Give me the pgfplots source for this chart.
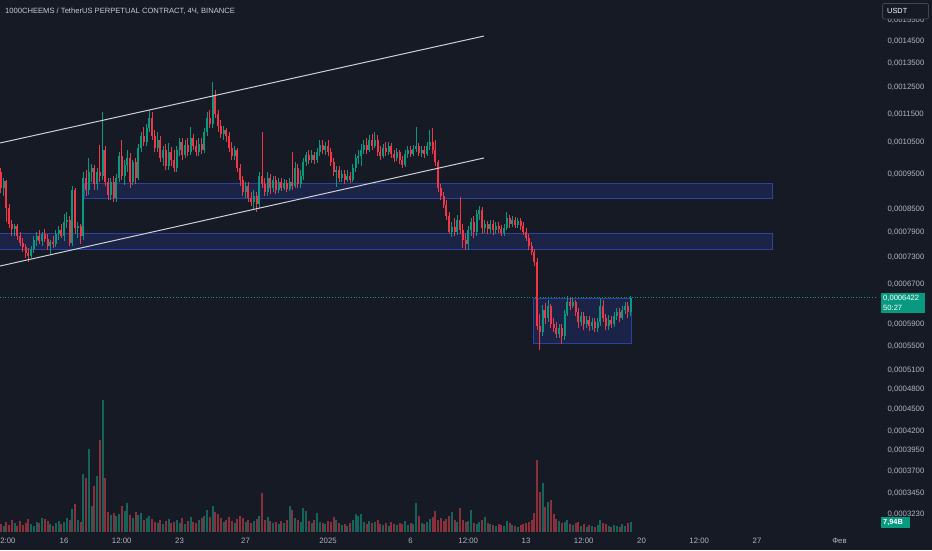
\documentclass[border=0pt]{standalone}
\usepackage{fontspec}
\setmainfont{Liberation Sans}
\usepackage{pgfplots}
\usepackage{pgfplotstable}
\pgfplotsset{compat=1.18}
\definecolor{bg}{RGB}{22,26,37}
\definecolor{upc}{RGB}{8,153,129}
\definecolor{dnc}{RGB}{242,54,69}
\definecolor{volup}{RGB}{20,100,92}
\definecolor{voldn}{RGB}{138,48,58}
\definecolor{lbl}{RGB}{178,181,190}
\definecolor{titlec}{RGB}{200,203,210}
\definecolor{zonef}{RGB}{27,36,70}
\definecolor{zoneb}{RGB}{44,66,160}
\definecolor{chan}{RGB}{205,208,214}
\definecolor{boxc}{RGB}{67,70,81}
% prices in units of 1e-7 USDT (6422 = 0,0006422); volume in billions
\pgfplotstableread{
i o h l c v
1 9566 9688 8948 9092 6.4
2 9092 9385 8864 9296 4.8
3 9296 9326 8161 8532 7.9
4 8532 8641 8007 8110 5.6
5 8110 8213 7806 7982 9.5
6 7982 8110 7806 8058 7.1
7 8058 8110 7708 7806 4.8
8 7806 7906 7563 7635 8.7
9 7635 7757 7420 7539 5.6
10 7539 7611 7280 7396 7.1
11 7396 7515 7188 7327 10.3
12 7327 7563 7280 7491 6.4
13 7491 7806 7396 7708 4.8
14 7708 7906 7563 7806 7.9
15 7806 7957 7611 7684 7.1
16 7684 7906 7563 7856 11.1
17 7856 7982 7659 7732 10.3
18 7732 7856 7467 7563 8.7
19 7563 7708 7373 7659 6.4
20 7659 7806 7515 7611 4.8
21 7611 7957 7539 7856 7.1
22 7856 8058 7708 7957 8.7
23 7957 8110 7757 7806 6.4
24 7806 8371 7684 8161 7.9
25 8161 8425 8007 8213 11.1
26 8213 8319 7563 7635 9.5
27 7635 9150 7563 9034 18.3
28 9034 9092 7856 8007 22.2
29 8007 8161 7757 8058 9.5
30 8058 8110 7611 7806 7.9
31 7806 9566 7708 9385 46.1
32 9385 9627 8864 9034 42.9
33 9034 10000 8892 9566 65.9
34 9566 9811 9267 9688 20.6
35 9688 9781 9034 9208 36.5
36 9208 9688 9034 9566 44.5
37 9566 10422 9267 9445 73.0
38 9445 11573 9326 10258 104.8
39 10258 10389 9150 9267 42.9
40 9267 9385 8752 8892 15.9
41 8892 9385 8752 9267 13.5
42 9267 9445 8696 8808 15.1
43 8808 9505 8696 9385 12.7
44 9385 10193 9267 10064 14.3
45 10064 10589 9326 9445 20.6
46 9445 9937 9179 9781 16.7
47 9781 10258 9566 10000 23.0
48 10000 10161 9092 9267 13.5
49 9267 9937 9179 9874 11.1
50 9874 10000 9208 9385 15.9
51 9385 10455 9326 10323 13.5
52 10323 10861 10193 10724 15.1
53 10724 11035 10389 10522 9.5
54 10522 11140 10389 11000 11.1
55 11000 11647 10861 11355 12.7
56 11355 11573 10589 10724 10.3
57 10724 10930 10193 10323 7.9
58 10323 10861 10193 10589 7.1
59 10589 10724 9874 10000 9.5
60 10000 10389 9750 10258 6.4
61 10258 10455 9627 9750 8.7
62 9750 10488 9627 10193 10.3
63 10193 10356 9750 9937 7.1
64 9937 10258 9566 9688 7.9
65 9688 10389 9566 10258 9.5
66 10258 10656 10064 10522 7.1
67 10522 10656 9937 10096 11.1
68 10096 10589 10000 10422 6.4
69 10422 10656 10064 10193 8.7
70 10193 11035 10096 10656 11.9
71 10656 10792 10258 10389 7.9
72 10389 10589 10064 10193 7.1
73 10193 10656 10064 10455 9.5
74 10455 10656 10128 10258 11.1
75 10258 11000 10161 10861 12.7
76 10861 11573 10724 11355 17.5
77 11355 11647 11000 11140 11.9
78 11140 12730 11000 12215 20.6
79 12215 12410 11355 11500 15.9
80 11500 11647 10861 11070 14.3
81 11070 11283 10656 10792 11.1
82 10792 11070 10589 10930 7.9
83 10930 11000 10522 10724 9.5
84 10724 10861 10193 10323 11.9
85 10323 10522 9937 10064 8.7
86 10064 10389 9937 10258 7.1
87 10258 10323 9566 9688 10.3
88 9688 9811 9150 9326 12.7
89 9326 9445 8864 8977 11.1
90 8977 9267 8808 9150 7.9
91 9150 9267 8696 8808 9.5
92 8808 8977 8587 8696 7.1
93 8696 9034 8478 8864 8.7
94 8864 8977 8425 8641 10.3
95 8641 9566 8532 9445 12.7
96 9445 10861 9092 9208 31.0
97 9208 9385 8864 8977 9.5
98 8977 9566 8864 9385 11.9
99 9385 9505 8920 9092 8.7
100 9092 9445 8977 9326 7.1
101 9326 9445 8920 9034 7.9
102 9034 9385 8948 9267 6.4
103 9267 9385 9005 9092 8.7
104 9092 9355 9034 9237 7.1
105 9237 9326 8977 9063 9.5
106 9063 9385 9005 9267 20.6
107 9267 10193 9034 9150 17.5
108 9150 9874 9092 9688 11.1
109 9688 9811 9092 9208 9.5
110 9208 9627 9092 9445 7.9
111 9445 10000 9326 9874 19.1
112 9874 10193 9750 10096 16.7
113 10096 10258 9811 9937 8.7
114 9937 10258 9843 10096 7.1
115 10096 10193 9811 9937 9.5
116 9937 10323 9843 10193 15.1
117 10193 10589 10064 10422 7.9
118 10422 10589 10128 10258 7.1
119 10258 10522 10096 10389 6.4
120 10389 10589 10064 10193 8.7
121 10193 10323 9750 9874 7.9
122 9874 10000 9445 9566 11.9
123 9566 9750 9121 9627 9.5
124 9627 9750 9267 9385 7.1
125 9385 9627 9267 9505 5.6
126 9505 9627 9208 9326 6.4
127 9326 9627 9267 9445 4.8
128 9445 9566 9237 9326 7.1
129 9326 9811 9267 9688 9.5
130 9688 10128 9566 10000 14.3
131 10000 10258 9811 10064 12.7
132 10064 10455 9750 10258 14.3
133 10258 10589 10128 10422 7.9
134 10422 10656 10128 10258 6.4
135 10258 10758 10193 10589 8.7
136 10589 10792 10258 10389 7.1
137 10389 10861 10323 10589 7.9
138 10589 10758 10064 10193 9.5
139 10193 10389 9937 10064 6.4
140 10064 10455 10000 10323 5.6
141 10323 10522 10064 10193 7.1
142 10193 10522 10096 10389 4.8
143 10389 10488 10000 10128 7.9
144 10128 10258 9874 10000 6.4
145 10000 10323 9905 10193 5.6
146 10193 10258 9811 9937 7.1
147 9937 10064 9688 9781 6.4
148 9781 10258 9719 10128 8.7
149 10128 10389 10000 10258 5.6
150 10258 10389 10032 10128 7.1
151 10128 10422 10064 10290 6.4
152 10290 11035 10193 10389 23.0
153 10389 10488 10064 10161 12.7
154 10161 10389 10032 10258 7.1
155 10258 10389 10000 10128 6.4
156 10128 10522 10064 10389 7.9
157 10389 10930 10258 10522 10.3
158 10522 11000 10128 10258 11.9
159 10258 10589 9750 9874 16.7
160 9874 9937 8977 9092 9.5
161 9092 9208 8752 8864 11.1
162 8864 8977 8532 8614 8.7
163 8614 8752 8213 8319 10.3
164 8319 8425 7856 7906 12.7
165 7906 8161 7781 8033 15.9
166 8033 8266 7806 7906 9.5
167 7906 8345 7831 8213 7.9
168 8213 8836 7856 7957 19.1
169 7957 8110 7515 7708 9.5
170 7708 7856 7467 7611 7.9
171 7611 8058 7467 7957 8.7
172 7957 8266 7806 8161 17.5
173 8161 8319 7757 7906 7.1
174 7906 8478 7806 8371 6.4
175 8371 8587 8213 8478 7.9
176 8478 8559 7856 8007 9.5
177 8007 8213 7881 8110 11.9
178 8110 8187 7856 7982 7.1
179 7982 8213 7881 8110 6.4
180 8110 8213 7831 7957 5.6
181 7957 8161 7856 8058 4.8
182 8058 8161 7881 7982 6.4
183 7982 8084 7806 7881 5.6
184 7881 8110 7806 8007 4.8
185 8007 8425 7957 8266 8.7
186 8266 8345 8007 8110 7.1
187 8110 8319 8033 8213 5.6
188 8213 8292 8007 8084 4.8
189 8084 8266 8007 8187 4.0
190 8187 8266 7957 8058 5.6
191 8058 8161 7831 7906 6.4
192 7906 8007 7684 7757 7.1
193 7757 7856 7467 7563 7.9
194 7563 7659 7350 7420 9.5
195 7420 7491 7097 7188 15.1
196 7188 7280 5793 5866 57.2
197 5866 6094 5436 5756 31.8
198 5756 6271 5683 6172 38.9
199 6172 6311 5904 6017 19.9
200 6017 6371 5941 6251 23.8
201 6251 6291 5829 5904 25.4
202 5904 6017 5756 5829 14.3
203 5829 5941 5647 5720 10.3
204 5720 5904 5647 5829 8.7
205 5829 5904 5541 5683 7.1
206 5683 6172 5612 6094 7.9
207 6094 6452 6056 6331 9.5
208 6331 6411 6172 6251 6.4
209 6251 6432 6212 6331 5.6
210 6331 6371 6056 6133 7.1
211 6133 6212 5829 5941 7.9
212 5941 6133 5866 6056 4.8
213 6056 6133 5793 5904 6.4
214 5904 6056 5829 5979 4.0
215 5979 6056 5775 5866 5.6
216 5866 6017 5793 5941 4.8
217 5941 6017 5756 5829 4.0
218 5829 6017 5756 5941 5.6
219 5941 6411 5866 6251 9.5
220 6251 6371 5941 6017 7.1
221 6017 6094 5793 5866 6.4
222 5866 6075 5793 5979 4.8
223 5979 6056 5829 5904 4.0
224 5904 6133 5848 6056 5.6
225 6056 6212 5979 6133 4.8
226 6133 6212 5941 6017 4.0
227 6017 6251 5979 6172 6.4
228 6172 6331 6094 6251 4.8
229 6251 6331 6017 6133 7.1
230 6133 6452 6056 6422 7.94
}\candles
% natural log of a price, for the log-scaled price pane
\newcommand\lnof[2]{\pgfmathparse{ln(#2)}\xdef#1{\pgfmathresult}}
\begin{document}
\begin{tikzpicture}
% build segment lists (wick: low->high, body: open<->close) from the table, on a log scale
\gdef\upwick{}\gdef\dnwick{}\gdef\upbody{}\gdef\dnbody{}%
\foreach \r in {0,...,229}{%
  \pgfplotstablegetelem{\r}{i}\of\candles\let\ci\pgfplotsretval
  \pgfplotstablegetelem{\r}{o}\of\candles\let\co\pgfplotsretval
  \pgfplotstablegetelem{\r}{h}\of\candles\let\chh\pgfplotsretval
  \pgfplotstablegetelem{\r}{l}\of\candles\let\cl\pgfplotsretval
  \pgfplotstablegetelem{\r}{c}\of\candles\let\cc\pgfplotsretval
  \lnof\Lo{\co}\lnof\Lh{\chh}\lnof\Ll{\cl}\lnof\Lc{\cc}%
  \ifdim\cc pt<\co pt
    \xdef\dnwick{\dnwick(\ci,\Ll)(\ci,\Lh)(\ci,nan)}%
    \xdef\dnbody{\dnbody(\ci,\Lc)(\ci,\Lo)(\ci,nan)}%
  \else
    \xdef\upwick{\upwick(\ci,\Ll)(\ci,\Lh)(\ci,nan)}%
    \xdef\upbody{\upbody(\ci,\Lo)(\ci,\Lc)(\ci,nan)}%
  \fi
}%
\lnof\zAa{8781}\lnof\zAb{9238}\lnof\zBa{7469}\lnof\zBb{7882}\lnof\zCa{5542}\lnof\zCb{6412}%
\lnof\cur{6422}\lnof\uA{10489}\lnof\uB{14732}\lnof\dA{7098}\lnof\dB{10002}%
\fill[bg] (0pt,0pt) rectangle (932pt,550pt);
% ---- volume pane ----
\begin{axis}[at={(0pt,18pt)}, anchor=south west, width=878pt, height=532pt, scale only axis,
  xmin=0.727, xmax=320, ymin=0, ymax=422.4, hide axis]
\addplot[ycomb, mark=none, line width=2pt, volup, restrict expr to domain={\thisrow{c}-\thisrow{o}}{0:100000}] table[x=i,y=v]{\candles};
\addplot[ycomb, mark=none, line width=2pt, voldn, restrict expr to domain={\thisrow{c}-\thisrow{o}}{-100000:-0.001}] table[x=i,y=v]{\candles};
\end{axis}
% ---- price pane (y = ln of price) ----
\begin{axis}[at={(0pt,18pt)}, anchor=south west, width=878pt, height=532pt, scale only axis,
  xmin=0.727, xmax=320, ymin=8.02306, ymax=9.71209,
  axis line style={draw=none}, tick style={draw=none}, major tick length=0pt,
  ytick={8.08024,8.14613,8.21609,8.28148,8.34284,8.41184,8.47638,8.53700,8.61251,8.68271,8.80987,8.89563,8.97462,9.04783,9.15905,9.25913,9.35010,9.43348,9.51044,9.58190,9.64859},
  yticklabels={{0,0003230},{0,0003450},{0,0003700},{0,0003950},{0,0004200},{0,0004500},{0,0004800},{0,0005100},{0,0005500},{0,0005900},{0,0006700},{0,0007300},{0,0007900},{0,0008500},{0,0009500},{0,0010500},{0,0011500},{0,0012500},{0,0013500},{0,0014500},{0,0015500}},
  yticklabel pos=right,
  yticklabel style={anchor=west, xshift=6pt, font=\fontsize{7.8}{9}\selectfont, text=lbl},
  xtick={3.6,24,45,66,90,120,150,171,192,213,234,255,276,306},
  xticklabels={2:00,16,12:00,23,27,2025,6,12:00,13,12:00,20,12:00,27,Фев},
  xticklabel style={font=\fontsize{7.8}{9}\selectfont, text=lbl, yshift=-3pt},
  unbounded coords=jump]
\edef\doplots{%
\noexpand\addplot[draw=zoneb, fill=zonef, line width=1pt] coordinates {(31.6,\zAa) (281.8,\zAa) (281.8,\zAb) (31.6,\zAb) (31.6,\zAa)};
\noexpand\addplot[draw=zoneb, fill=zonef, line width=1pt] coordinates {(-3,\zBa) (281.8,\zBa) (281.8,\zBb) (-3,\zBb) (-3,\zBa)};
\noexpand\addplot[draw=zoneb, fill=zonef, line width=1pt] coordinates {(194.9,\zCa) (230.5,\zCa) (230.5,\zCb) (194.9,\zCb) (194.9,\zCa)};
\noexpand\addplot[upc, dotted, line width=0.7pt] coordinates {(0.727,\cur) (320,\cur)};
\noexpand\addplot[upc, line width=0.8pt] coordinates {\upwick};
\noexpand\addplot[dnc, line width=0.8pt] coordinates {\dnwick};
\noexpand\addplot[upc, line width=2pt] coordinates {\upbody};
\noexpand\addplot[dnc, line width=2pt] coordinates {\dnbody};
\noexpand\addplot[chan, line width=1pt] coordinates {(0.727,\uA) (176.7,\uB)};
\noexpand\addplot[chan, line width=1pt] coordinates {(0.727,\dA) (176.7,\dB)};
}\doplots
\end{axis}
% title
\node[anchor=west, inner sep=0, text=titlec, font=\fontsize{7.6}{9}\selectfont] at (5pt,539pt) {1000CHEEMS / TetherUS PERPETUAL CONTRACT, 4Ч, BINANCE};
% currency box
\filldraw[fill=bg, draw=boxc, rounded corners=2pt, line width=0.8pt] (882.5pt,531pt) rectangle (928.5pt,546.5pt);
\node[anchor=west, inner sep=0, text=white, font=\fontsize{7.4}{9}\selectfont] at (887pt,538.7pt) {USDT};
% last price tag
\fill[upc] (881pt,237pt) rectangle (925pt,257pt);
\node[anchor=west, inner sep=0, text=white, font=\fontsize{7.6}{9}\selectfont] at (883pt,251.5pt) {0,0006422};
\node[anchor=west, inner sep=0, text=white, font=\fontsize{7.6}{9}\selectfont] at (883pt,242.5pt) {50:27};
% volume tag
\fill[upc] (881pt,22.5pt) rectangle (910pt,33pt);
\node[anchor=west, inner sep=0, text=white, font=\bfseries\fontsize{7.4}{9}\selectfont] at (883pt,27.8pt) {7,94B};
\pgfresetboundingbox
\path[use as bounding box] (0pt,0pt) rectangle (932pt,550pt);
\end{tikzpicture}
\end{document}
